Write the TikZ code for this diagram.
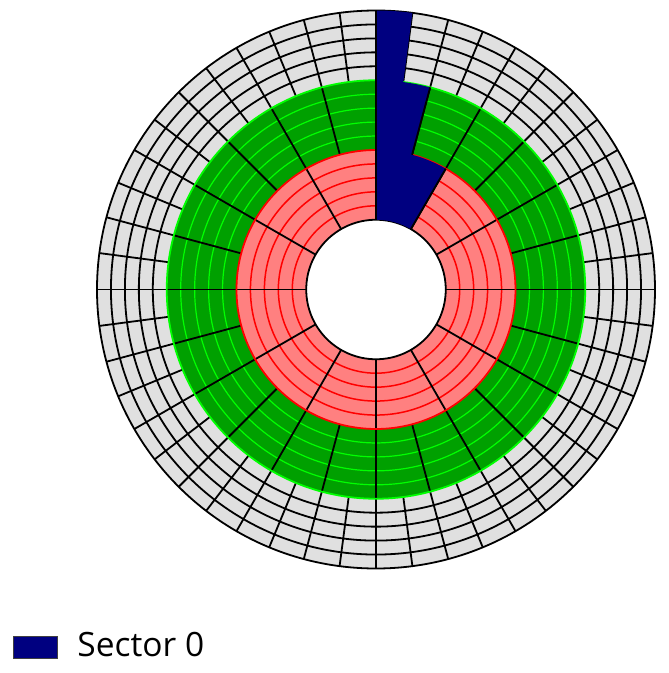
\documentclass[tikz,border=0pt]{standalone}
\usepackage{fontspec}
\setmainfont{Open Sans}
\definecolor{zgray}{HTML}{E0E0E0}
\definecolor{zgreen}{HTML}{00A000}
\definecolor{lgreen}{HTML}{00FF00}
\definecolor{zred}{HTML}{FF8080}
\definecolor{navyb}{HTML}{000080}
\begin{document}
\begin{tikzpicture}[x=1pt,y=1pt,
  spoke/.style={black, line width=1.8pt},
  graytrack/.style={black, line width=1.8pt},
  greentrack/.style={lgreen, line width=1.2pt},
  redtrack/.style={red, line width=1.5pt}]
\useasboundingbox (-376,-383.5) rectangle (293,289.5);
\def\u{13.95}
% zone fills
\fill[zgray] (0,0) circle (20*\u);
\fill[zgreen] (0,0) circle (15*\u);
\fill[zred] (0,0) circle (10*\u);
\fill[white] (0,0) circle (5*\u);
% tracks
\foreach \r in {16,...,19} \draw[graytrack] (0,0) circle (\r*\u);
\foreach \r in {11,...,14} \draw[greentrack] (0,0) circle (\r*\u);
\foreach \r in {6,...,9} \draw[redtrack] (0,0) circle (\r*\u);
% sector spokes
\foreach \a in {0,7.5,...,352.5} \draw[spoke] (\a:15*\u) -- (\a:20*\u);
\foreach \a in {0,15,...,345} \draw[spoke] (\a:10*\u) -- (\a:15*\u);
\foreach \a in {0,30,...,330} \draw[spoke] (\a:5*\u) -- (\a:10*\u);
% zone boundaries
\draw[black, line width=1.8pt] (0,0) circle (20*\u);
\draw[lgreen, line width=1.8pt] (0,0) circle (15*\u);
\draw[red, line width=1.8pt] (0,0) circle (10*\u);
\draw[black, line width=1.8pt] (0,0) circle (5*\u);
% sector 0
\fill[navyb] (90:20*\u) arc[start angle=90, end angle=82.5, radius=20*\u]
  -- (82.5:15*\u) arc[start angle=82.5, end angle=75, radius=15*\u]
  -- (75:10*\u) arc[start angle=75, end angle=60, radius=10*\u]
  -- (60:5*\u) arc[start angle=60, end angle=90, radius=5*\u] -- cycle;
\draw[spoke] (90:5*\u) -- (90:20*\u);
\draw[spoke] (75:10*\u) -- (75:15*\u);
\draw[spoke] (60:5*\u) -- (60:10*\u);
% legend
\node[draw=black!75, fill=navyb, line width=0.8pt, inner sep=0pt,
  minimum width=44pt, minimum height=21.6pt] (legbox) at (-340.7,-358) {};
\node[anchor=base west, inner sep=0pt, font=\fontsize{33.5}{40}\selectfont]
  (legtext) at (-298.7,-366.5) {Sector 0};
\end{tikzpicture}
\end{document}
